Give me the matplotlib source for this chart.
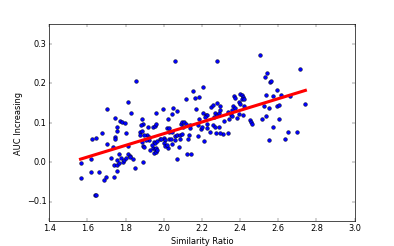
import matplotlib
matplotlib.use("Agg")
import matplotlib.pyplot as plt
import numpy as np

# Similarity ratio vs AUC increase
similarity = np.array([
    1.564, 1.564, 1.619, 1.619, 1.626, 1.643, 1.640, 1.647, 1.661, 1.678,
    1.687, 1.699, 1.703, 1.703, 1.725, 1.734, 1.739, 1.739, 1.743, 1.746,
    1.746, 1.757, 1.757, 1.757, 1.753, 1.757, 1.764, 1.773, 1.783, 1.797,
    1.813, 1.830, 1.853, 1.767, 1.776, 1.785, 1.793, 1.800, 1.802, 1.813,
    1.813, 1.821, 1.825, 1.839, 1.850, 1.874, 1.877, 1.886, 1.886, 1.892,
    1.895, 1.892, 1.886, 1.892, 1.881, 1.918, 1.944, 1.952, 1.960, 1.960,
    1.913, 1.925, 1.921, 1.947, 1.956, 1.965, 1.944, 1.956, 1.961, 1.951,
    1.961, 1.979, 2.000, 2.009, 2.021, 1.998, 2.021, 2.018, 2.026, 2.044,
    2.026, 2.040, 2.000, 2.005, 2.018, 2.026, 2.044, 1.988, 1.895, 1.907,
    1.965, 2.051, 2.057, 2.070, 2.089, 2.098, 2.105, 2.114, 2.135, 2.155,
    2.166, 2.187, 2.170, 2.187, 2.057, 2.070, 2.087, 2.096, 2.084, 2.061,
    2.078, 2.070, 2.122, 2.143, 2.099, 2.114, 2.131, 2.126, 2.204, 2.280,
    2.204, 2.222, 2.229, 2.215, 2.250, 2.257, 2.278, 2.296, 2.266, 2.280,
    2.288, 2.262, 2.314, 2.227, 2.229, 2.259, 2.269, 2.243, 2.272, 2.212,
    2.313, 2.338, 2.197, 2.339, 2.353, 2.360, 2.383, 2.392, 2.413, 2.364,
    2.374, 2.359, 2.367, 2.374, 2.400, 2.409, 2.414, 2.409, 2.419, 2.392,
    2.398, 2.419, 2.451, 2.456, 2.461, 2.502, 2.514, 2.535, 2.524, 2.553,
    2.596, 2.603, 2.533, 2.542, 2.556, 2.563, 2.591, 2.616, 2.538, 2.572,
    2.661, 2.715, 2.742, 2.574, 2.605, 2.549, 2.633, 2.650, 2.700, 2.297,
    2.140, 2.180, 2.201, 2.180, 2.342, 2.297, 2.044, 2.288, 1.930, 1.940,
])
auc_increase = np.array([
    -0.003, -0.041, 0.009, -0.025, 0.058, 0.062, -0.084, -0.084, -0.025, 0.074,
    -0.045, -0.038, 0.047, 0.135, 0.010, 0.040, -0.038, -0.008, 0.112, 0.063,
    0.058, 0.089, 0.080, -0.023, -0.006, 0.007, -0.003, 0.105, 0.103, 0.099,
    0.153, 0.125, 0.207, 0.021, 0.011, 0.001, 0.005, 0.011, 0.074, 0.041,
    0.020, 0.017, 0.013, 0.009, -0.014, 0.077, 0.069, 0.079, 0.052, 0.041,
    0.038, 0.001, 0.111, 0.096, 0.094, 0.089, 0.090, 0.093, 0.096, 0.124,
    0.069, 0.064, 0.056, 0.052, 0.050, 0.053, 0.035, 0.033, 0.036, 0.024,
    0.025, 0.060, 0.062, 0.056, 0.037, 0.135, 0.111, 0.087, 0.087, 0.122,
    0.060, 0.060, 0.049, 0.042, 0.045, 0.077, 0.077, 0.060, 0.069, 0.056,
    0.030, 0.137, 0.256, 0.130, 0.097, 0.101, 0.101, 0.161, 0.094, 0.182,
    0.164, 0.166, 0.135, 0.111, 0.067, 0.069, 0.070, 0.071, 0.060, 0.056,
    0.039, 0.009, 0.020, 0.022, 0.090, 0.096, 0.069, 0.060, 0.190, 0.256,
    0.124, 0.119, 0.121, 0.115, 0.140, 0.146, 0.151, 0.142, 0.124, 0.119,
    0.124, 0.115, 0.105, 0.096, 0.086, 0.094, 0.090, 0.077, 0.074, 0.054,
    0.072, 0.075, 0.084, 0.127, 0.119, 0.117, 0.113, 0.122, 0.121, 0.144,
    0.139, 0.132, 0.167, 0.162, 0.173, 0.170, 0.166, 0.161, 0.161, 0.153,
    0.147, 0.144, 0.107, 0.102, 0.098, 0.272, 0.109, 0.117, 0.142, 0.137,
    0.144, 0.146, 0.216, 0.227, 0.203, 0.206, 0.183, 0.171, 0.170, 0.168,
    0.168, 0.238, 0.147, 0.090, 0.110, 0.057, 0.060, 0.076, 0.076, 0.075,
    0.086, 0.094, 0.090, 0.067, 0.111, 0.132, 0.046, 0.090, 0.030, 0.045,
])

plt.style.use("classic")
fig = plt.figure(figsize=(8, 5), dpi=49.25, facecolor="white")
ax = fig.add_subplot(111)

ax.scatter(similarity, auc_increase, s=30, c="b", edgecolors="k", linewidths=0.6, zorder=2)

# least squares fit, drawn over the data range
slope, intercept = np.polyfit(similarity, auc_increase, 1)
xfit = np.array([similarity.min(), similarity.max()])
ax.plot(xfit, slope * xfit + intercept, color="red", linewidth=4.5, zorder=3)

ax.set_xlim(1.4, 3.0)
ax.set_ylim(-0.15, 0.35)
ax.set_yticks([-0.1, 0.0, 0.1, 0.2, 0.3])
ax.set_xlabel("Similarity Ratio")
ax.set_ylabel("AUC Increasing")

fig.savefig("out.png", dpi=49.25, facecolor="white")
